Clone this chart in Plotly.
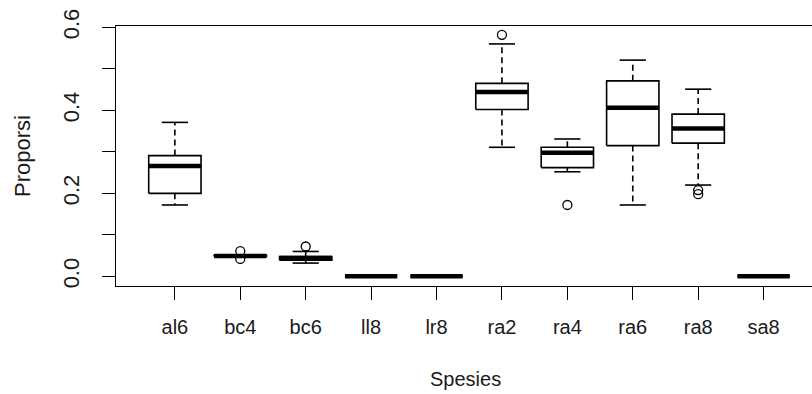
import plotly.graph_objects as go

# ---- data ----
categories = ["al6", "bc4", "bc6", "ll8", "lr8", "ra2", "ra4", "ra6", "ra8", "sa8"]
q1 = [0.200, 0.048, 0.039, 0.0, 0.0, 0.402, 0.262, 0.315, 0.321, 0.0]
median = [0.266, 0.049, 0.044, 0.0, 0.0, 0.444, 0.298, 0.406, 0.356, 0.0]
q3 = [0.291, 0.051, 0.048, 0.0, 0.0, 0.465, 0.311, 0.471, 0.391, 0.0]
lower_whisker = [0.172, 0.047, 0.032, 0.0, 0.0, 0.311, 0.252, 0.172, 0.220, 0.0]
upper_whisker = [0.371, 0.052, 0.060, 0.0, 0.0, 0.560, 0.331, 0.521, 0.451, 0.0]
outlier_cat = ["bc4", "bc4", "bc6", "ra2", "ra4", "ra8", "ra8"]
outlier_val = [0.061, 0.042, 0.072, 0.582, 0.172, 0.208, 0.198]

y_tickvals = [0.0, 0.1, 0.2, 0.3, 0.4, 0.5, 0.6]
y_ticktext = ["0.0", "", "0.2", "", "0.4", "", "0.6"]

HALF = 0.4      # half box width (R boxwex 0.8)
CAP = 0.2       # half staple width
FONT = "Liberation Sans, Arial, sans-serif"
TXT = "#1a1a1a"

pos = list(range(1, len(categories) + 1))

box_x, box_y = [], []
med_x, med_y = [], []
wh_x, wh_y = [], []
cap_x, cap_y = [], []
for p, a, m, b, lo, hi in zip(pos, q1, median, q3, lower_whisker, upper_whisker):
    box_x += [p - HALF, p + HALF, p + HALF, p - HALF, p - HALF, None]
    box_y += [a, a, b, b, a, None]
    med_x += [p - HALF, p + HALF, None]
    med_y += [m, m, None]
    wh_x += [p, p, None, p, p, None]
    wh_y += [b, hi, None, a, lo, None]
    cap_x += [p - CAP, p + CAP, None, p - CAP, p + CAP, None]
    cap_y += [hi, hi, None, lo, lo, None]

out_x = [pos[categories.index(c)] for c in outlier_cat]

fig = go.Figure()
fig.add_trace(go.Scatter(x=wh_x, y=wh_y, mode="lines",
                         line=dict(color="black", width=1.6, dash="6px,4px"),
                         hoverinfo="skip", showlegend=False))
fig.add_trace(go.Scatter(x=cap_x, y=cap_y, mode="lines",
                         line=dict(color="black", width=1.6),
                         hoverinfo="skip", showlegend=False))
fig.add_trace(go.Scatter(x=box_x, y=box_y, mode="lines",
                         line=dict(color="black", width=1.6),
                         hoverinfo="skip", showlegend=False))
fig.add_trace(go.Scatter(x=med_x, y=med_y, mode="lines",
                         line=dict(color="black", width=4.5),
                         hoverinfo="skip", showlegend=False))
fig.add_trace(go.Scatter(x=out_x, y=outlier_val, mode="markers",
                         marker=dict(symbol="circle-open", size=9,
                                     color="black", line=dict(width=1.3)),
                         showlegend=False))

fig.update_layout(
    width=812, height=394,
    margin=dict(l=116, r=0, t=26, b=108),
    paper_bgcolor="white", plot_bgcolor="white",
    font=dict(family=FONT, color=TXT),
    showlegend=False,
    xaxis=dict(range=[0.1, 10.74], tickmode="array", tickvals=pos,
               ticktext=categories, ticks="outside", ticklen=13,
               tickwidth=1.3, tickcolor="black", showline=True,
               linecolor="black", linewidth=1.3, mirror=True,
               showgrid=False, zeroline=False,
               tickfont=dict(size=20, family=FONT, color=TXT),
               ticklabelstandoff=10),
    yaxis=dict(range=[-0.0232, 0.6032], tickmode="array", tickvals=y_tickvals,
               ticktext=y_ticktext, ticks="outside", ticklen=13,
               tickwidth=1.3, tickcolor="black", showline=True,
               linecolor="black", linewidth=1.3, mirror=False,
               showgrid=False, zeroline=False, tickangle=-90,
               tickfont=dict(size=22, family=FONT, color=TXT),
               ticklabelstandoff=14),
    annotations=[
        dict(text="Spesies", xref="paper", yref="paper", x=0.502, y=0,
             yshift=-93, xanchor="center", yanchor="middle", showarrow=False,
             font=dict(size=20, family=FONT, color=TXT)),
        dict(text="Proporsi", xref="paper", yref="paper", x=0, y=0.5,
             xshift=-94, xanchor="center", yanchor="middle", textangle=-90,
             showarrow=False, font=dict(size=22, family=FONT, color=TXT)),
    ],
)

fig.write_html("out.html", config={"displayModeBar": False}, post_script=(
    "document.body.style.margin='0';"
    "document.body.style.overflow='hidden';"))
